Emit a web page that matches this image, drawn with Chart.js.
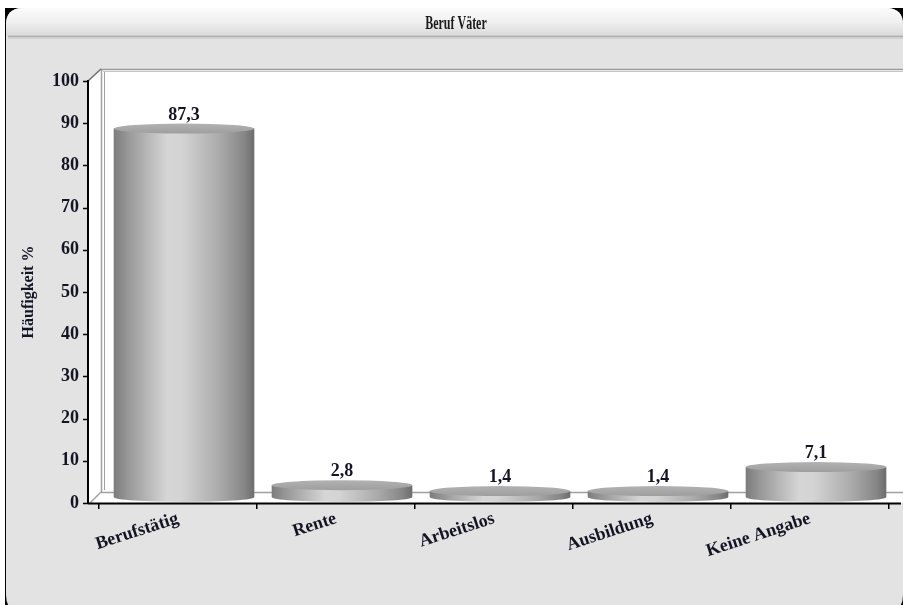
<!DOCTYPE html>
<html>
<head>
<meta charset="utf-8">
<script src="https://cdn.jsdelivr.net/npm/chart.js@4"></script>
<style>
  html, body { margin: 0; padding: 0; background: #fff; overflow: hidden; }
  canvas { display: block; }
</style>
</head>
<body>
<canvas id="chart" width="903" height="605"></canvas>
<script>
// Chart content
const chartTitle = 'Beruf Väter';
const axisTitle = 'Häufigkeit %';
const categories = ['Berufstätig', 'Rente', 'Arbeitslos', 'Ausbildung', 'Keine Angabe'];
const shares = [87.3, 2.8, 1.4, 1.4, 7.1];
const yMin = 0;
const yMax = 100;
const yStep = 10;

// Styling
const SERIF = '"Liberation Serif", "Times New Roman", serif';
const TEXT = '#141424';
const DEPTH_X = 13;      // 3D depth of the frame (px to the right)
const DEPTH_Y = 12;      // 3D depth of the frame (px upward)
const AXIS_GAP = 11;     // front y axis sits this far left of the category area
const BAR_SHIFT = 6;     // bars sit half-way into the depth
const CAP_RY = 5;        // vertical radius of the cylinder ellipses

function fmt(v) { return v.toFixed(1).replace('.', ','); }

function roundRectPath(ctx, x, y, w, h, r) {
  ctx.beginPath();
  ctx.moveTo(x + r, y);
  ctx.lineTo(x + w - r, y);
  ctx.quadraticCurveTo(x + w, y, x + w, y + r);
  ctx.lineTo(x + w, y + h - r);
  ctx.quadraticCurveTo(x + w, y + h, x + w - r, y + h);
  ctx.lineTo(x + r, y + h);
  ctx.quadraticCurveTo(x, y + h, x, y + h - r);
  ctx.lineTo(x, y + r);
  ctx.quadraticCurveTo(x, y, x + r, y);
  ctx.closePath();
}

function poly(ctx, pts) {
  ctx.beginPath();
  ctx.moveTo(pts[0][0], pts[0][1]);
  for (let i = 1; i < pts.length; i++) ctx.lineTo(pts[i][0], pts[i][1]);
  ctx.closePath();
}

function line(ctx, x1, y1, x2, y2) {
  ctx.beginPath();
  ctx.moveTo(x1, y1);
  ctx.lineTo(x2, y2);
  ctx.stroke();
}

// Panel, header bar and the 3D box (walls, floor, front axes)
const framePlugin = {
  id: 'frame',
  beforeDraw(chart) {
    const { ctx, width: W, height: H, chartArea: a, scales: { y } } = chart;
    ctx.save();

    ctx.fillStyle = '#fff';
    ctx.fillRect(0, 0, W, H);
    ctx.fillStyle = '#000';
    ctx.fillRect(5, 8, W - 5, H - 8);

    // panel
    roundRectPath(ctx, 6, 8, W - 6, 604, 17);
    ctx.fillStyle = '#e3e3e3';
    ctx.fill();

    // header bar
    ctx.save();
    roundRectPath(ctx, 6, 8, W - 6, 604, 17);
    ctx.clip();
    const hg = ctx.createLinearGradient(0, 8, 0, 36);
    hg.addColorStop(0, '#fbfbfb');
    hg.addColorStop(0.5, '#f0f0f0');
    hg.addColorStop(1, '#d9d9d9');
    ctx.fillStyle = hg;
    ctx.fillRect(6, 8, W - 6, 28);
    ctx.restore();
    ctx.strokeStyle = '#a9a9a9';
    ctx.lineWidth = 1.5;
    line(ctx, 8, 36.5, W, 36.5);
    ctx.strokeStyle = '#cfcfcf';
    ctx.lineWidth = 1;
    line(ctx, 8, 38.5, W, 38.5);

    // header title (condensed bold serif)
    ctx.save();
    ctx.translate(456, 24);
    ctx.scale(0.63, 1);
    ctx.font = 'bold 19px ' + SERIF;
    ctx.fillStyle = '#1a1a1a';
    ctx.textAlign = 'center';
    ctx.textBaseline = 'middle';
    ctx.fillText(chartTitle, 0, 0);
    ctx.restore();

    // 3D box
    const fx = a.left - AXIS_GAP;          // front y axis
    const fb = a.bottom;                   // front floor line
    const ft = y.getPixelForValue(yMax);   // top of front axis
    const bx = fx + DEPTH_X;
    const bt = ft - DEPTH_Y;
    const bb = fb - DEPTH_Y + 1;

    ctx.fillStyle = '#fff';
    ctx.fillRect(bx, bt, W - bx, bb - bt);
    poly(ctx, [[fx, ft], [bx, bt], [bx, bb], [fx, fb]]);
    ctx.fill();
    poly(ctx, [[fx, fb], [bx, bb], [W, bb], [W, fb]]);
    ctx.fill();

    ctx.strokeStyle = '#9a9a9a';
    ctx.lineWidth = 1.5;
    line(ctx, bx, bt + 0.5, W, bt + 0.5);
    ctx.strokeStyle = '#c4c4c4';
    ctx.lineWidth = 1;
    line(ctx, bx + 2, bt + 2.5, W, bt + 2.5);
    ctx.strokeStyle = '#a0a0a0';
    ctx.lineWidth = 1.5;
    line(ctx, bx + 0.5, bt, bx + 0.5, bb);
    ctx.lineWidth = 1;
    line(ctx, bx + 3.5, bt + 3, bx + 3.5, bb - 2);
    ctx.lineWidth = 1.5;
    line(ctx, bx, bb + 0.5, W, bb + 0.5);
    ctx.strokeStyle = '#707070';
    line(ctx, fx, ft, bx, bt);
    ctx.strokeStyle = '#a0a0a0';
    line(ctx, fx + 2, fb, bx, bb);

    // front axes
    ctx.strokeStyle = '#000';
    ctx.lineWidth = 2;
    line(ctx, fx, ft - 1, fx, fb + 1);
    line(ctx, fx, fb + 0.5, W - 2, fb + 0.5);
    ctx.lineWidth = 1.5;
    for (let v = yMin; v <= yMax; v += yStep) {
      const py = Math.round(y.getPixelForValue(v)) + 0.5;
      line(ctx, fx - 5, py, fx, py);
    }
    ctx.restore();
  }
};

// Cylinder bars with their value labels, placed from the bar elements
const cylinderPlugin = {
  id: 'cylinders',
  afterDatasetsDraw(chart) {
    const { ctx } = chart;
    const meta = chart.getDatasetMeta(0);
    ctx.save();
    meta.data.forEach((bar, i) => {
      const p = bar.getProps(['x', 'y', 'base', 'width'], true);
      const cx = p.x + BAR_SHIFT;
      const rx = p.width / 2;
      const top = p.y - BAR_SHIFT;
      const bottom = p.base - BAR_SHIFT;

      const g = ctx.createLinearGradient(cx - rx, 0, cx + rx, 0);
      g.addColorStop(0, '#7c7c7c');
      g.addColorStop(0.12, '#9c9c9c');
      g.addColorStop(0.38, '#d6d6d6');
      g.addColorStop(0.48, '#d4d4d4');
      g.addColorStop(0.75, '#ababab');
      g.addColorStop(0.93, '#868686');
      g.addColorStop(1, '#6c6c6c');

      ctx.beginPath();
      ctx.moveTo(cx - rx, top);
      ctx.lineTo(cx - rx, bottom);
      ctx.ellipse(cx, bottom, rx, CAP_RY, 0, Math.PI, 0, true);
      ctx.lineTo(cx + rx, top);
      ctx.closePath();
      ctx.fillStyle = g;
      ctx.fill();

      const cg = ctx.createLinearGradient(0, top - CAP_RY, 0, top + CAP_RY);
      cg.addColorStop(0, '#b2b2b2');
      cg.addColorStop(1, '#9e9e9e');
      ctx.beginPath();
      ctx.ellipse(cx, top, rx, CAP_RY, 0, 0, Math.PI * 2);
      ctx.fillStyle = cg;
      ctx.fill();

      ctx.font = 'bold 18px ' + SERIF;
      ctx.fillStyle = TEXT;
      ctx.textAlign = 'center';
      ctx.textBaseline = 'alphabetic';
      ctx.fillText(fmt(shares[i]), cx, top - CAP_RY - 4);
    });
    ctx.restore();
  }
};

new Chart(document.getElementById('chart'), {
  type: 'bar',
  data: {
    labels: categories,
    datasets: [{
      data: shares,
      backgroundColor: 'rgba(0,0,0,0)',
      borderWidth: 0,
      categoryPercentage: 1,
      barPercentage: 0.89
    }]
  },
  options: {
    responsive: false,
    animation: false,
    devicePixelRatio: 1,
    layout: { padding: { left: 0, top: 81, right: 14, bottom: 0 } },
    plugins: {
      legend: { display: false },
      tooltip: { enabled: false },
      title: { display: false }
    },
    scales: {
      x: {
        grid: { drawOnChartArea: false, drawTicks: true, tickLength: 6, color: '#000', lineWidth: 1.5, offset: true },
        border: { display: false },
        ticks: {
          autoSkip: false,
          minRotation: 18,
          maxRotation: 18,
          padding: -1,
          color: TEXT,
          font: { family: SERIF, size: 18, weight: 'bold' }
        },
        afterFit(scale) { scale.height = 102; }
      },
      y: {
        min: yMin,
        max: yMax,
        grid: { display: false, drawTicks: false },
        border: { display: false },
        ticks: {
          stepSize: yStep,
          padding: 20,
          color: TEXT,
          font: { family: SERIF, size: 18, weight: 'bold' }
        },
        title: {
          display: true,
          text: axisTitle,
          color: TEXT,
          font: { family: SERIF, size: 16, weight: 'bold' },
          padding: { top: 19, bottom: 0 }
        },
        afterFit(scale) { scale.width = 99; }
      }
    }
  },
  plugins: [framePlugin, cylinderPlugin]
});
</script>
</body>
</html>
